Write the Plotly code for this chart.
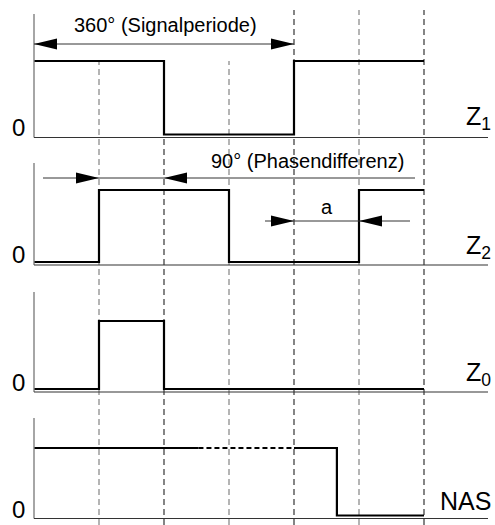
import plotly.graph_objects as go

# ---------------- data ----------------
t_z1 = [0, 2, 4, 6]
z1 = [1, 0, 1, 1]
t_z2 = [0, 1, 3, 5, 6]
z2 = [0, 1, 0, 1, 1]
t_z0 = [0, 1, 2, 6]
z0 = [0, 1, 0, 0]
t_nas_solid1 = [0, 2.53]
nas_solid1 = [1, 1]
t_nas_dash = [2.53, 4]
nas_dash = [1, 1]
t_nas_solid2 = [4, 4.66, 6]
nas_solid2 = [1, 0, 0]
grid_t = [1, 2, 3, 4, 5, 6]
period_span = [0, 4]
phase_span = [1, 2]
a_span = [4, 5]
signal_labels = ["Z<sub>1</sub>", "Z<sub>2</sub>", "Z<sub>0</sub>", "NAS"]
period_text = "360° (Signalperiode)"
phase_text = "90° (Phasendifferenz)"
a_text = "a"
zero_text = "0"

# ---------------- geometry (pixels) ----------------
W, H = 495, 525
X0, DX = 34.0, 65.0            # pixel of t=0, pixels per unit
# (low pixel, high pixel) per panel
panels = [(134.5, 61.0), (262.0, 190.0), (389.0, 321.0), (515.5, 448.0)]
axis_tops = [14, 163, 292, 418]
FONT = "Liberation Sans, Arial, sans-serif"


def tx(px):
    return (px - X0) / DX


def pv(px, i):
    L, Hh = panels[i]
    return (L - px) / (L - Hh)


fig = go.Figure()
yrefs = ["y", "y2", "y3", "y4"]
layout_axes = {}
for i, (L, Hh) in enumerate(panels):
    s = L - Hh
    key = "yaxis" if i == 0 else f"yaxis{i+1}"
    ax = dict(range=[(L - H) / s, L / s], domain=[0, 1], visible=False, fixedrange=True)
    if i > 0:
        ax["overlaying"] = "y"
    layout_axes[key] = ax

SIG = dict(color="#000000", width=2.2)


def add_sig(x, y, i, dash=None):
    line = dict(SIG)
    if dash:
        line["dash"] = dash
    fig.add_trace(go.Scatter(x=x, y=y, mode="lines", line=line, line_shape="hv",
                             yaxis=yrefs[i], hoverinfo="skip", showlegend=False))


add_sig(t_z1, z1, 0)
add_sig(t_z2, z2, 1)
add_sig(t_z0, z0, 2)
add_sig(t_nas_solid1, nas_solid1, 3)
add_sig(t_nas_dash, nas_dash, 3, dash="5px,3px")
add_sig(t_nas_solid2, nas_solid2, 3)

shapes = []
# dashed vertical guides
ybot0 = pv(H, 0)
for t in grid_t:
    top = 1.0 if t <= 3 else pv(10, 0)
    col = "#222222" if t % 2 == 0 else "#777777"
    shapes.append(dict(type="line", xref="x", yref="y", x0=t, x1=t, y0=ybot0, y1=top,
                       line=dict(color=col, width=1.1, dash="6px,4px"), layer="below"))

# axes + baselines
for i in range(4):
    shapes.append(dict(type="line", xref="x", yref=yrefs[i], x0=0, x1=0,
                       y0=pv(panels[i][0] + 3, i), y1=pv(axis_tops[i], i),
                       line=dict(color="#808080", width=1.4)))
    shapes.append(dict(type="line", xref="x", yref=yrefs[i], x0=0, x1=tx(488),
                       y0=pv(panels[i][0] + 3, i), y1=pv(panels[i][0] + 3, i),
                       line=dict(color="#333333", width=1.1)))


def arrowhead(t, v, yref, direction):
    # direction: +1 points right, -1 points left
    d = direction
    path = f"M0,0 L{-23*d},5.5 L{-23*d},-5.5 Z"
    return dict(type="path", xref="x", yref=yref, xsizemode="pixel", ysizemode="pixel",
                xanchor=t, yanchor=v, path=path, fillcolor="#000000",
                line=dict(width=0))


DIM = dict(color="#333333", width=1)
# 360° dimension (panel 1)
v360 = pv(44, 0)
shapes.append(dict(type="line", xref="x", yref="y", x0=period_span[0], x1=period_span[1],
                   y0=v360, y1=v360, line=DIM))
shapes.append(arrowhead(period_span[0], v360, "y", -1))
shapes.append(arrowhead(period_span[1], v360, "y", +1))

# 90° dimension (panel 2)
v90 = pv(178, 1)
shapes.append(dict(type="line", xref="x", yref="y2", x0=tx(43), x1=tx(415),
                   y0=v90, y1=v90, line=DIM))
shapes.append(arrowhead(phase_span[0], v90, "y2", +1))
shapes.append(arrowhead(phase_span[1], v90, "y2", -1))

# a dimension (panel 2)
va = pv(221, 1)
shapes.append(dict(type="line", xref="x", yref="y2", x0=tx(265), x1=tx(410),
                   y0=va, y1=va, line=DIM))
shapes.append(arrowhead(a_span[0], va, "y2", +1))
shapes.append(arrowhead(a_span[1], va, "y2", -1))

annotations = []
annotations.append(dict(x=tx(165), y=pv(25, 0), xref="x", yref="y", text=period_text,
                        showarrow=False, font=dict(family=FONT, size=20, color="#000"),
                        xanchor="center", yanchor="middle"))
annotations.append(dict(x=tx(307.5), y=pv(161, 1), xref="x", yref="y2", text=phase_text,
                        showarrow=False, font=dict(family=FONT, size=20, color="#000"),
                        xanchor="center", yanchor="middle"))
annotations.append(dict(x=tx(327), y=pv(207, 1), xref="x", yref="y2", text=a_text,
                        showarrow=False, font=dict(family=FONT, size=20, color="#000"),
                        xanchor="center", yanchor="middle"))

zero_y = [127, 254, 382, 509]
for i in range(4):
    annotations.append(dict(x=tx(18.5), y=pv(zero_y[i], i), xref="x", yref=yrefs[i],
                            text=zero_text, showarrow=False,
                            font=dict(family=FONT, size=24, color="#000"),
                            xanchor="center", yanchor="middle"))

label_y = [118, 247, 374, 501]
for i, lab in enumerate(signal_labels):
    annotations.append(dict(x=tx(492), y=pv(label_y[i], i), xref="x", yref=yrefs[i],
                            text=lab, showarrow=False,
                            font=dict(family=FONT, size=25, color="#000"),
                            xanchor="right", yanchor="middle", borderpad=0))

fig.update_layout(
    width=W, height=H,
    margin=dict(l=0, r=0, t=0, b=0),
    paper_bgcolor="white", plot_bgcolor="white",
    xaxis=dict(range=[tx(0), tx(W)], visible=False, fixedrange=True),
    shapes=shapes, annotations=annotations,
    showlegend=False,
    **layout_axes,
)

fig.write_html("out.html", config={"displayModeBar": False},
               post_script="document.body.style.margin='0px';document.body.style.overflow='hidden';")
